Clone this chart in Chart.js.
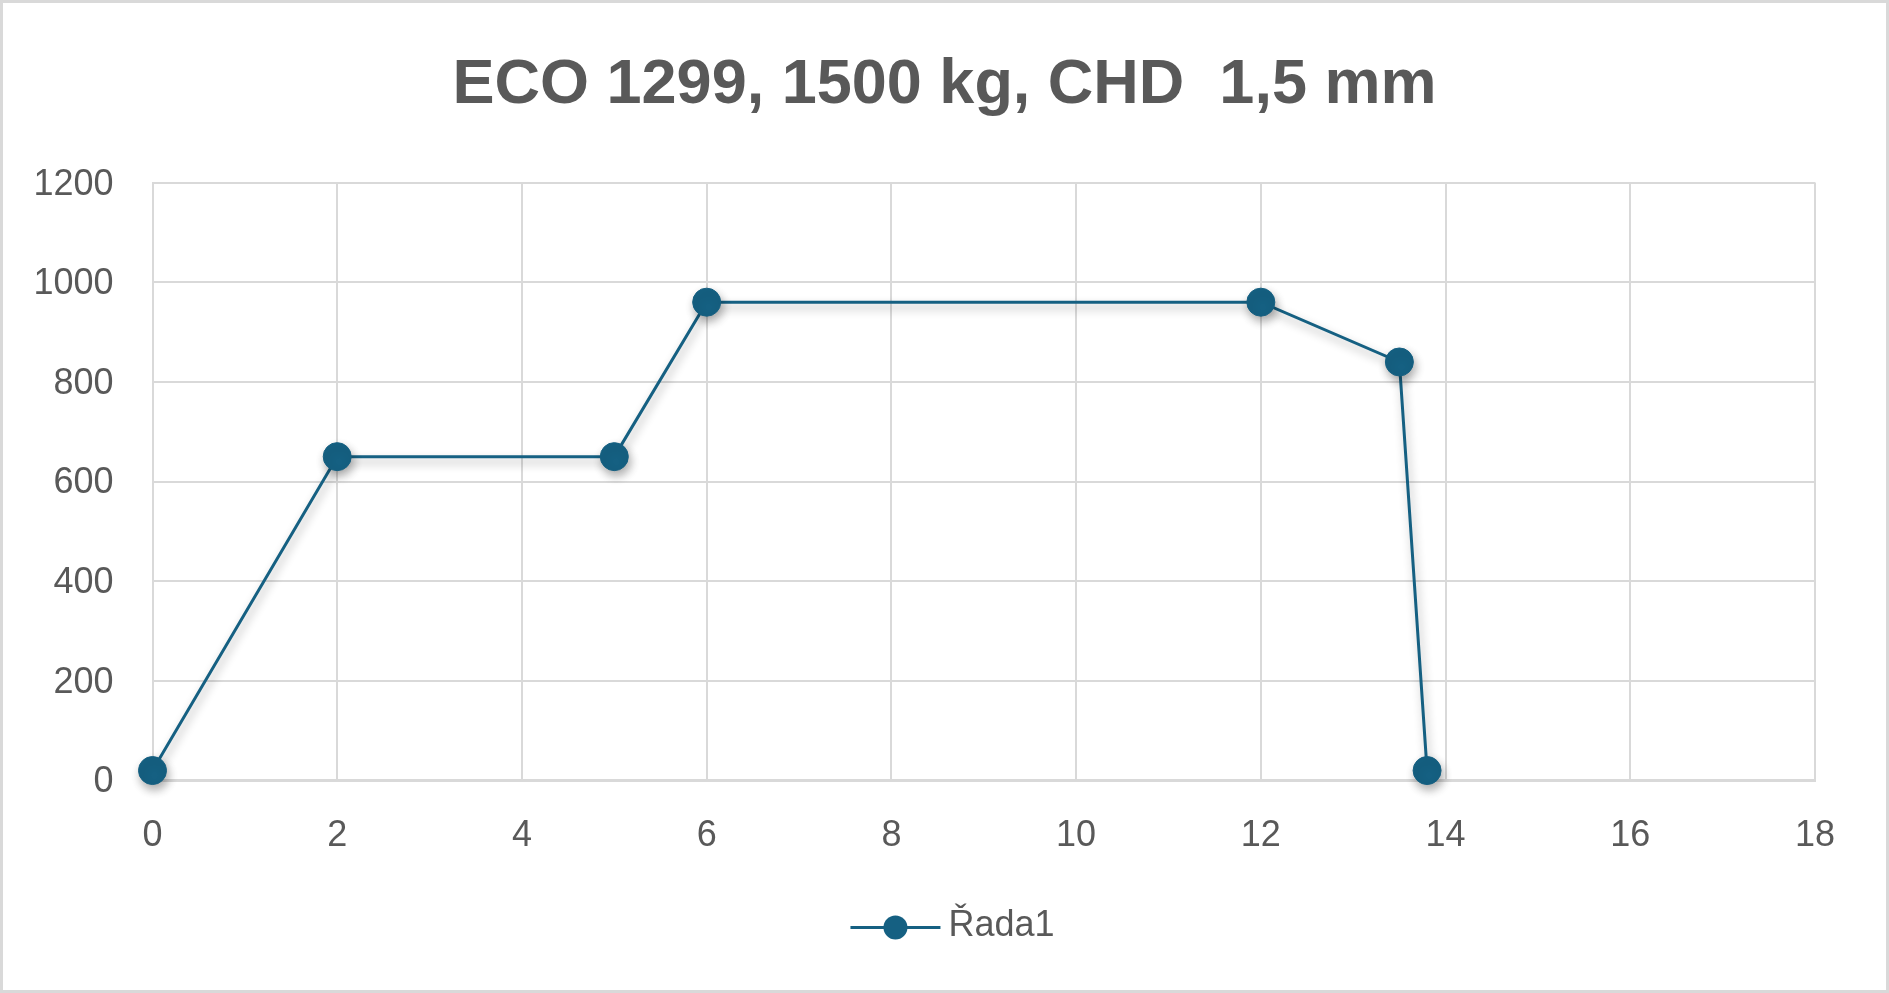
<!DOCTYPE html>
<html>
<head>
<meta charset="utf-8">
<script src="https://cdn.jsdelivr.net/npm/chart.js@4"></script>
<style>
  html, body { margin: 0; padding: 0; background: #ffffff; }
  #wrap { position: relative; width: 1889px; height: 993px; }
</style>
</head>
<body>
<div id="wrap"><canvas id="c"></canvas></div>
<script>
const chartTitle = "ECO 1299, 1500 kg, CHD  1,5 mm";
const seriesName = "Řada1";
const xValues = [0, 2, 5, 6, 12, 13.5, 13.8];
const yValues = [20, 650, 650, 960, 960, 840, 20];
const xTicks = [0, 2, 4, 6, 8, 10, 12, 14, 16, 18];
const yTicks = [0, 200, 400, 600, 800, 1000, 1200];

const lineColor = '#156082';
const textColor = '#595959';
const gridColor = '#d9d9d9';
const fontFamily = '"Liberation Sans", Arial, sans-serif';

const points = xValues.map((x, i) => ({ x: x, y: yValues[i] }));

const framePlugin = {
  id: 'frame',
  beforeDraw(chart) {
    const ctx = chart.ctx;
    ctx.save();
    ctx.fillStyle = '#ffffff';
    ctx.fillRect(0, 0, chart.width, chart.height);
    ctx.strokeStyle = gridColor;
    ctx.lineWidth = 3;
    ctx.strokeRect(1.5, 1.5, chart.width - 3, chart.height - 3);
    ctx.restore();
  }
};

const shadowPlugin = {
  id: 'shadow',
  beforeDatasetsDraw(chart) {
    const ctx = chart.ctx;
    ctx.save();
    ctx.shadowColor = 'rgba(0,0,0,0.32)';
    ctx.shadowBlur = 10;
    ctx.shadowOffsetX = 2;
    ctx.shadowOffsetY = 5;
  },
  afterDatasetsDraw(chart) {
    chart.ctx.restore();
  }
};

const legendPlugin = {
  id: 'customLegend',
  afterDraw(chart) {
    const ctx = chart.ctx;
    const ds = chart.data.datasets[0];
    const cx = chart.width / 2 + 8;
    const cy = 927.5;
    ctx.save();
    ctx.font = '36px ' + fontFamily;
    const tw = ctx.measureText(ds.label).width;
    const symW = 90, gap = 8;
    const total = symW + gap + tw;
    const x0 = cx - total / 2;
    ctx.strokeStyle = ds.borderColor;
    ctx.lineWidth = 3;
    ctx.beginPath();
    ctx.moveTo(x0, cy);
    ctx.lineTo(x0 + symW, cy);
    ctx.stroke();
    ctx.fillStyle = ds.pointBackgroundColor;
    ctx.beginPath();
    ctx.arc(x0 + symW / 2, cy, 12, 0, Math.PI * 2);
    ctx.fill();
    ctx.fillStyle = textColor;
    ctx.textBaseline = 'middle';
    ctx.textAlign = 'left';
    ctx.fillText(ds.label, x0 + symW + gap, cy - 1);
    ctx.restore();
  }
};

new Chart(document.getElementById('c'), {
  type: 'scatter',
  data: {
    datasets: [{
      label: seriesName,
      data: points,
      showLine: true,
      clip: false,
      borderColor: lineColor,
      borderWidth: 3,
      backgroundColor: lineColor,
      pointBackgroundColor: lineColor,
      pointBorderColor: lineColor,
      pointBorderWidth: 1,
      pointRadius: 14,
      pointHoverRadius: 14,
      tension: 0
    }]
  },
  options: {
    responsive: true,
    maintainAspectRatio: false,
    animation: false,
    devicePixelRatio: 1,
    layout: { padding: { left: 0, right: 0, top: 0, bottom: 0 } },
    plugins: {
      legend: { display: false },
      tooltip: { enabled: false },
      title: {
        display: true,
        text: chartTitle,
        color: textColor,
        font: { family: fontFamily, size: 63, weight: 'bold', lineHeight: 1.2 },
        padding: { top: 48, bottom: 59 }
      }
    },
    scales: {
      x: {
        type: 'linear',
        min: 0,
        max: 18,
        afterBuildTicks(axis) { axis.ticks = xTicks.map(v => ({ value: v })); },
        afterFit(axis) { axis.height = 212.5; },
        grid: { color: gridColor, lineWidth: 2, drawTicks: false },
        border: { color: gridColor, width: 3 },
        ticks: {
          color: textColor,
          font: { family: fontFamily, size: 36 },
          padding: 34,
          maxRotation: 0,
          callback: v => String(v)
        }
      },
      y: {
        type: 'linear',
        min: 0,
        max: 1200,
        afterBuildTicks(axis) { axis.ticks = yTicks.map(v => ({ value: v })); },
        afterFit(axis) { axis.width = 152.5; },
        grid: { color: gridColor, lineWidth: 2, drawTicks: false },
        border: { color: gridColor, width: 2 },
        ticks: {
          color: textColor,
          font: { family: fontFamily, size: 36 },
          padding: 39,
          labelOffset: 2,
          callback: v => String(v)
        }
      },
      yRight: {
        type: 'linear',
        position: 'right',
        min: 0,
        max: 1200,
        afterFit(axis) { axis.width = 74; },
        grid: { display: false, drawTicks: false },
        border: { display: false },
        ticks: { display: false }
      }
    }
  },
  plugins: [framePlugin, shadowPlugin, legendPlugin]
});
</script>
</body>
</html>
